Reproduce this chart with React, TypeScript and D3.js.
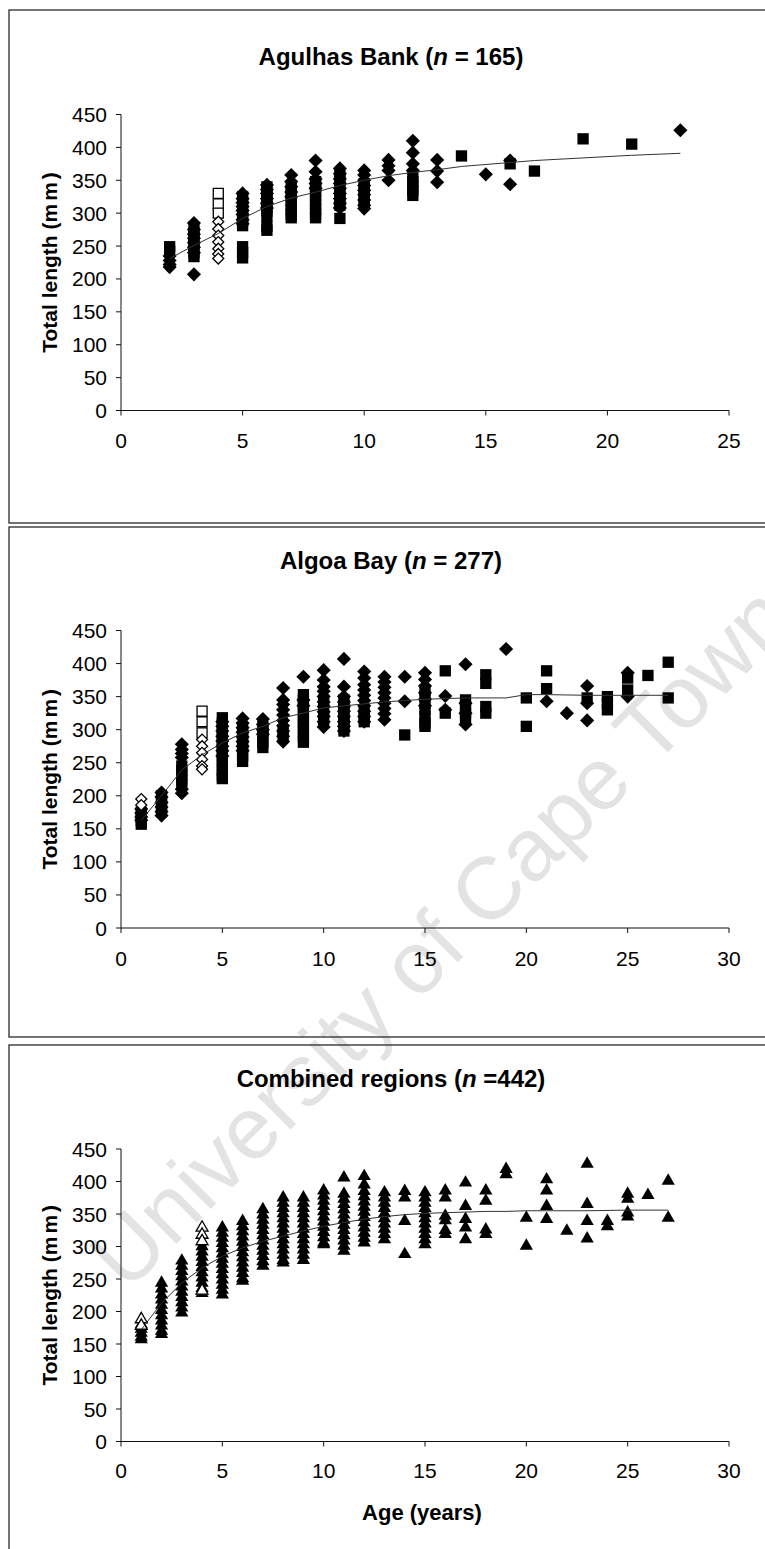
import React from 'react';
import * as d3 from 'd3';

type Col = [number, number[]];

// ---- Agulhas Bank (n = 165): age (years) -> total lengths (mm)
const AB_SQUARE: Col[] = [
  [2, [249, 242]],
  [3, [278, 270, 262, 255, 248, 240, 234]],
  [5, [325, 318, 310, 302, 295, 288, 281, 249, 240, 232]],
  [6, [340, 332, 325, 318, 310, 303, 296, 280, 274]],
  [7, [340, 333, 326, 319, 312, 305, 298, 293]],
  [8, [348, 341, 334, 327, 320, 313, 306, 299, 293]],
  [9, [360, 350, 340, 330, 320, 312, 292]],
  [10, [345, 338, 330, 322, 315]],
  [12, [355, 348, 341, 334, 327]],
  [14, [387]],
  [16, [375]],
  [17, [364]],
  [19, [413]],
  [21, [405]],
];
const AB_DIAMOND: Col[] = [
  [2, [235, 228, 222, 218]],
  [3, [285, 275, 268, 262, 255, 248, 240, 207]],
  [5, [330, 322, 316, 310, 304, 298, 290, 284]],
  [6, [343, 336, 330, 322, 315, 308]],
  [7, [358, 348, 340, 332, 325]],
  [8, [380, 363, 352, 345, 338]],
  [9, [368, 360, 352, 345, 338, 330, 322, 315, 308]],
  [10, [365, 358, 350, 342, 335, 328, 320, 312, 307]],
  [11, [381, 372, 365, 350]],
  [12, [410, 392, 375, 365]],
  [13, [381, 364, 347]],
  [15, [359]],
  [16, [380, 344]],
  [23, [426]],
];
const AB_OPEN_SQUARE: Col[] = [[4, [330, 314, 300]]];
const AB_OPEN_DIAMOND: Col[] = [[4, [287, 276, 266, 256, 246, 238, 231]]];
const AB_CURVE_AGE = [2, 3, 4, 5, 6, 7, 8, 9, 10, 11, 12, 13, 14, 16, 17, 19, 21, 23];
const AB_CURVE_LEN = [231, 251, 269, 292, 310, 323, 332, 342, 350, 357, 362, 366, 371, 377, 380, 384, 388, 391];

// ---- Algoa Bay (n = 277)
const AL_SQUARE: Col[] = [
  [1, [175, 168, 162, 157]],
  [2, [200, 192, 184, 176]],
  [3, [245, 238, 231, 224, 217]],
  [5, [318, 310, 302, 294, 286, 278, 270, 262, 254, 246, 238, 230, 226]],
  [6, [300, 292, 284, 276, 268, 260, 252]],
  [7, [305, 297, 289, 281, 273]],
  [8, [300, 292]],
  [9, [353, 345, 337, 329, 321, 313, 305, 297, 289, 281]],
  [10, [345, 330, 315]],
  [11, [345, 337, 329, 321, 313, 305, 298]],
  [12, [330, 320, 312]],
  [14, [292]],
  [15, [360, 350, 340, 330, 320, 310, 305]],
  [16, [389, 325]],
  [17, [345, 335, 325, 318]],
  [18, [383, 370, 335, 325]],
  [20, [348, 305]],
  [21, [389, 362]],
  [23, [348]],
  [24, [350, 340, 330]],
  [25, [378, 360]],
  [26, [382]],
  [27, [402, 348]],
];
const AL_DIAMOND: Col[] = [
  [1, [180, 174, 168, 163]],
  [2, [205, 198, 190, 183, 176, 170]],
  [3, [278, 270, 264, 258, 210, 204]],
  [5, [312, 305, 298, 290, 283, 275, 268, 260]],
  [6, [317, 310, 303, 296, 289, 282, 275, 268]],
  [7, [316, 308, 300, 293]],
  [8, [363, 345, 338, 330, 322, 314, 306, 298, 290, 282]],
  [9, [380, 345, 336]],
  [10, [390, 375, 365, 358, 350, 342, 335, 327, 320, 312, 304]],
  [11, [407, 365, 350, 342, 335, 328, 320, 312, 305, 298]],
  [12, [388, 378, 368, 360, 352, 344, 336, 328, 320, 312]],
  [13, [380, 372, 364, 356, 348, 340, 332, 324, 315]],
  [14, [380, 343]],
  [15, [386, 376, 366, 356, 346, 336]],
  [16, [351, 330]],
  [17, [399, 340, 325, 308]],
  [19, [422]],
  [21, [343]],
  [22, [325]],
  [23, [366, 340, 314]],
  [25, [386, 350]],
];
const AL_OPEN_SQUARE: Col[] = [[4, [328, 312, 295]]];
const AL_OPEN_DIAMOND: Col[] = [
  [1, [195, 186]],
  [4, [285, 275, 265, 255, 245, 240]],
];
const AL_CURVE_AGE = [1, 2, 3, 4, 5, 6, 7, 8, 9, 10, 11, 12, 13, 14, 15, 16, 17, 18, 19, 20, 21, 23, 25, 27];
const AL_CURVE_LEN = [163, 200, 239, 262, 280, 295, 305, 318, 325, 333, 336, 339, 342, 344, 346, 347, 348, 348, 348, 353, 353, 352, 352, 352];

// ---- Combined regions (n = 442)
const CO_TRIANGLE: Col[] = [
  [1, [180, 173, 167, 161, 157]],
  [2, [244, 235, 226, 218, 210, 202, 194, 186, 178, 170, 165]],
  [3, [278, 270, 262, 254, 246, 238, 230, 222, 214, 206, 198]],
  [4, [300, 292, 284, 276, 268, 260, 252, 244, 236, 228]],
  [5, [329, 321, 313, 305, 297, 289, 281, 273, 265, 257, 249, 241, 233, 226]],
  [6, [339, 331, 323, 315, 307, 299, 291, 283, 275, 267, 259, 251, 247]],
  [7, [357, 349, 341, 333, 325, 317, 309, 301, 293, 285, 277, 270]],
  [8, [375, 367, 359, 351, 343, 335, 327, 319, 311, 303, 295, 287, 279, 275]],
  [9, [375, 367, 359, 351, 343, 335, 327, 319, 311, 303, 295, 287, 279]],
  [10, [386, 378, 370, 362, 354, 346, 338, 330, 322, 314, 306, 303]],
  [11, [406, 381, 373, 365, 357, 349, 341, 333, 325, 317, 309, 301, 293]],
  [12, [408, 395, 385, 377, 369, 361, 353, 345, 337, 329, 321, 313, 306]],
  [13, [383, 375, 367, 359, 351, 343, 335, 327, 319, 311]],
  [14, [385, 375, 339, 288]],
  [15, [383, 375, 367, 359, 351, 343, 335, 327, 319, 311, 303]],
  [16, [386, 375, 347, 340, 325, 319]],
  [17, [398, 362, 342, 329, 311]],
  [18, [386, 370, 326, 319]],
  [19, [419, 411]],
  [20, [344, 301]],
  [21, [403, 386, 362, 342]],
  [22, [324]],
  [23, [427, 365, 339, 312]],
  [24, [339, 331]],
  [25, [381, 373, 352, 346]],
  [26, [379]],
  [27, [401, 344]],
];
const CO_OPEN_TRIANGLE: Col[] = [
  [1, [188, 178]],
  [4, [329, 318, 308, 232]],
];
const CO_CURVE_AGE = [1, 2, 3, 4, 5, 6, 7, 8, 9, 10, 11, 12, 13, 14, 15, 16, 17, 18, 19, 20, 21, 23, 25, 27];
const CO_CURVE_LEN = [172, 213, 244, 267, 285, 298, 308, 316, 324, 331, 337, 342, 346, 349, 351, 352, 353, 354, 354, 355, 355, 355, 356, 356];

const Y_TICKS = [0, 50, 100, 150, 200, 250, 300, 350, 400, 450];

const FONT = '"Liberation Sans", Arial, Helvetica, sans-serif';

type Shape = 'square' | 'diamond' | 'triangle';
type Series = { cols: Col[]; shape: Shape; open?: boolean };

const symbolPath = {
  square: d3.symbol(d3.symbolSquare, 128)() as string,
  diamond: d3.symbol(d3.symbolSquare, 100)() as string,
  triangle: d3.symbol(d3.symbolTriangle, 76)() as string,
};
const openPath = {
  square: d3.symbol(d3.symbolSquare, 100)() as string,
  diamond: d3.symbol(d3.symbolSquare, 60)() as string,
  triangle: d3.symbol(d3.symbolTriangle, 62)() as string,
};

function expand(cols: Col[]) {
  return cols.flatMap(([a, ls]) => ls.map((l) => [a, l] as [number, number]));
}

interface PanelProps {
  top: number;
  bottom: number;
  titleY: number;
  titlePre: string;
  titlePost: string;
  yTop: number;
  yZero: number;
  xMax: number;
  tickLabelY: number;
  series: Series[];
  curveAge: number[];
  curveLen: number[];
  xLabel?: string;
}

function Panel(p: PanelProps) {
  const x = d3.scaleLinear().domain([0, p.xMax]).range([121, 729]);
  const y = d3.scaleLinear().domain([0, 450]).range([p.yZero, p.yTop]);
  const line = d3
    .line<number>()
    .x((_, i) => x(p.curveAge[i]))
    .y((d) => y(d));
  const xTicks = x.ticks(p.xMax / 5);
  const yMid = (p.yTop + p.yZero) / 2;

  return (
    <g>
      <rect x={9} y={p.top} width={800} height={p.bottom - p.top} fill="none" stroke="#2a2a2a" strokeWidth={1.3} />
      <text x={391} y={p.titleY} textAnchor="middle" fontFamily={FONT} fontWeight="bold" fontSize={24}>
        {p.titlePre}
        <tspan fontStyle="italic">n</tspan>
        {p.titlePost}
      </text>

      {/* axes */}
      <line x1={121} x2={121} y1={y(0)} y2={y(450)} stroke="#111" strokeWidth={1} />
      <line x1={121} x2={729} y1={y(0)} y2={y(0)} stroke="#111" strokeWidth={1} />
      {Y_TICKS.map((t) => (
        <g key={'y' + t}>
          <line x1={116} x2={121} y1={y(t)} y2={y(t)} stroke="#111" />
          <text x={107} y={y(t) + 7.5} textAnchor="end" fontFamily={FONT} fontSize={21}>
            {t}
          </text>
        </g>
      ))}
      {xTicks.map((t) => (
        <g key={'x' + t}>
          <line x1={x(t)} x2={x(t)} y1={y(0)} y2={y(0) + 5} stroke="#111" />
          <text x={x(t)} y={p.tickLabelY} textAnchor="middle" fontFamily={FONT} fontSize={21}>
            {t}
          </text>
        </g>
      ))}
      <text
        transform={`translate(49,${yMid}) rotate(-90)`}
        textAnchor="middle"
        dominantBaseline="central"
        fontFamily={FONT}
        fontWeight="bold"
        fontSize={21}
      >
        Total length (<tspan letterSpacing={3}>mm</tspan>)
      </text>
      {p.xLabel && (
        <text x={422} y={1520} textAnchor="middle" fontFamily={FONT} fontWeight="bold" fontSize={22}>
          {p.xLabel}
        </text>
      )}

      {/* markers */}
      {p.series.map((s, si) =>
        expand(s.cols).map(([a, l], i) => (
          <path
            key={si + '-' + i}
            d={s.open ? openPath[s.shape] : symbolPath[s.shape]}
            transform={`translate(${x(a)},${y(l)})${s.shape === 'diamond' ? ' rotate(45)' : ''}`}
            fill={s.open ? '#fff' : '#000'}
            stroke="#000"
            strokeWidth={s.open ? 1.3 : 0}
          />
        ))
      )}

      <path d={line(p.curveLen) || ''} fill="none" stroke="#333" strokeWidth={1} />
    </g>
  );
}

export default function App() {
  return (
    <svg
      width={765}
      height={1549}
      style={{ position: 'absolute', left: 0, top: 0, background: '#fff' }}
    >
      <rect x={0} y={0} width={765} height={1549} fill="#fff" />
      <text
        transform="translate(462,958) rotate(-45)"
        textAnchor="middle"
        fontFamily={FONT}
        fontSize={88}
        fill="#e3e3e3"
      >
        University of Cape Town
      </text>
      <Panel
        top={10}
        bottom={523}
        titleY={64.5}
        titlePre="Agulhas Bank ("
        titlePost=" = 165)"
        yTop={114.5}
        yZero={410.5}
        xMax={25}
        tickLabelY={447.5}
        series={[
          { cols: AB_SQUARE, shape: 'square' },
          { cols: AB_DIAMOND, shape: 'diamond' },
          { cols: AB_OPEN_SQUARE, shape: 'square', open: true },
          { cols: AB_OPEN_DIAMOND, shape: 'diamond', open: true },
        ]}
        curveAge={AB_CURVE_AGE}
        curveLen={AB_CURVE_LEN}
      />
      <Panel
        top={527}
        bottom={1037}
        titleY={568.5}
        titlePre="Algoa Bay ("
        titlePost=" = 277)"
        yTop={630.5}
        yZero={928}
        xMax={30}
        tickLabelY={965.5}
        series={[
          { cols: AL_SQUARE, shape: 'square' },
          { cols: AL_DIAMOND, shape: 'diamond' },
          { cols: AL_OPEN_SQUARE, shape: 'square', open: true },
          { cols: AL_OPEN_DIAMOND, shape: 'diamond', open: true },
        ]}
        curveAge={AL_CURVE_AGE}
        curveLen={AL_CURVE_LEN}
      />
      <Panel
        top={1045}
        bottom={1600}
        titleY={1086.5}
        titlePre="Combined regions ("
        titlePost=" =442)"
        yTop={1149}
        yZero={1441.5}
        xMax={30}
        tickLabelY={1477.5}
        series={[
          { cols: CO_TRIANGLE, shape: 'triangle' },
          { cols: CO_OPEN_TRIANGLE, shape: 'triangle', open: true },
        ]}
        curveAge={CO_CURVE_AGE}
        curveLen={CO_CURVE_LEN}
        xLabel="Age (years)"
      />
    </svg>
  );
}
